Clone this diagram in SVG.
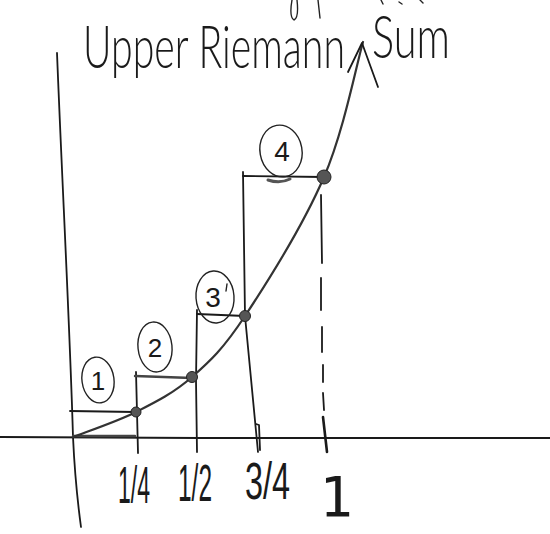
<svg xmlns="http://www.w3.org/2000/svg" width="550" height="534" viewBox="0 0 550 534">
<style>
.ink{fill:none;stroke:#1a1a1a;stroke-width:1.8;stroke-linecap:round;stroke-linejoin:round}
.thin{fill:none;stroke:#222;stroke-width:1.4;stroke-linecap:round}
.gray{fill:none;stroke:#444;stroke-width:2.4;stroke-linecap:round}
.dot{fill:#555;stroke:#222;stroke-width:1}
.hand{font-family:Lato,"Open Sans","Liberation Sans",sans-serif;font-weight:300;fill:#1a1a1a}
.num{font-family:"Liberation Sans",sans-serif;fill:#1a1a1a}
.frac{font-family:"Liberation Sans",sans-serif;fill:#1a1a1a;font-size:34px}
</style>
<rect width="550" height="534" fill="#fff"/>
<g id="fragments" class="thin">
<path d="M292,0 Q289,17 294,20 Q299,18 297,0"/>
<path d="M318,0 L320,18"/>
<path d="M381,0 L383,4"/><path d="M399,2 L402,4"/><path d="M420,0 L423,3"/>
</g>
<g id="title">
<text class="hand" transform="translate(83,68) scale(1,1.5)" x="0" y="0" font-size="40" textLength="262" lengthAdjust="spacingAndGlyphs">Upper Riemann</text>
<text class="hand" transform="translate(372,58) scale(1,1.5)" x="0" y="0" font-size="40" textLength="78" lengthAdjust="spacingAndGlyphs">Sum</text>
</g>
<g id="axes">
<path class="ink" d="M57,53 C62,180 70,330 73,437 C75,480 78,505 81,527"/>
<path class="ink" d="M0,437 L200,438 L550,438" stroke-width="1.5"/>
</g>
<g id="rect1">
<path class="ink" d="M70,411 L135,412"/>
<path class="gray" d="M73,436 L135,436"/>
<path class="ink" d="M136,372 L137,412 L138,453" stroke-width="2.2"/>
</g>
<g id="rect2">
<path class="gray" d="M135,376 L192,378"/>
</g>
<g id="rect3">
<path class="ink" d="M197,310 L196,380 L197,452" stroke-width="2"/>
<path class="ink" d="M197,314 L245,316" stroke-width="2.2"/>
<path class="ink" d="M256,424 L259,425 L260,450"/>
</g>
<g id="rect4">
<path class="ink" d="M243,172 L245,316 L258,452" stroke-width="2"/>
<path class="ink" d="M243,176 L324,177"/>
<path d="M268,180 Q280,184 290,179" fill="none" stroke="#555" stroke-width="3" stroke-linecap="round"/>
</g>
<g id="dashed-1" class="ink">
<path d="M321,195 L322,263"/><path d="M321,278 L321,310"/><path d="M322,327 L322,352"/>
<path d="M323,365 L323,382"/><path d="M323,393 L324,410"/><path d="M323,417 L327,452" stroke-width="2.6"/>
</g>
<g id="connectors">
<path d="M73,437 C83.5,432.8 116.2,422 136,412 C155.8,402 173.8,393 192,377 C210.2,361 223,349.3 245,316 C267,282.7 304.3,222.7 324,177 C343.7,131.3 356.5,64.5 363,42" fill="none" stroke="#333" stroke-width="2.2" stroke-linecap="round"/>
<path class="ink" d="M348,72 L362,43 L378,87" stroke-width="2.2"/>
</g>
<g id="points">
<circle class="dot" cx="136" cy="412" r="5"/>
<circle class="dot" cx="192" cy="377" r="5.5"/>
<circle class="dot" cx="245" cy="316" r="5.5"/>
<circle class="dot" cx="324" cy="177" r="7"/>
</g>
<g id="label1">
<ellipse class="thin" cx="98" cy="380" rx="16" ry="23" transform="rotate(-8 98 380)"/>
<text class="num" x="98" y="390" font-size="26" text-anchor="middle">1</text>
</g>
<g id="label2">
<ellipse class="thin" cx="155" cy="347" rx="17" ry="25" transform="rotate(-6 155 347)"/>
<text class="num" x="155" y="357" font-size="26" text-anchor="middle">2</text>
</g>
<g id="label3">
<ellipse class="thin" cx="215" cy="297" rx="19" ry="26" transform="rotate(-4 215 297)"/>
<text class="num" x="213" y="307" font-size="28" text-anchor="middle">3</text>
<path class="thin" d="M227,284 L226,291"/>
</g>
<g id="label4">
<ellipse class="thin" cx="281" cy="151" rx="21" ry="26" transform="rotate(-10 281 151)"/>
<text class="num" x="282" y="161" font-size="28" text-anchor="middle">4</text>
</g>
<g id="ticks">
<text class="frac" transform="translate(118,503) scale(1,1.5)" x="0" y="0" textLength="32" lengthAdjust="spacingAndGlyphs">1/4</text>
<text class="frac" transform="translate(178,501) scale(1,1.5)" x="0" y="0" textLength="34" lengthAdjust="spacingAndGlyphs">1/2</text>
<text class="frac" transform="translate(245,499) scale(1,1.5)" x="0" y="0" textLength="45" lengthAdjust="spacingAndGlyphs">3/4</text>
<text x="336" y="516" font-size="56" text-anchor="middle" font-family="'DejaVu Sans Mono',monospace" fill="#1a1a1a">1</text>
</g>
</svg>
